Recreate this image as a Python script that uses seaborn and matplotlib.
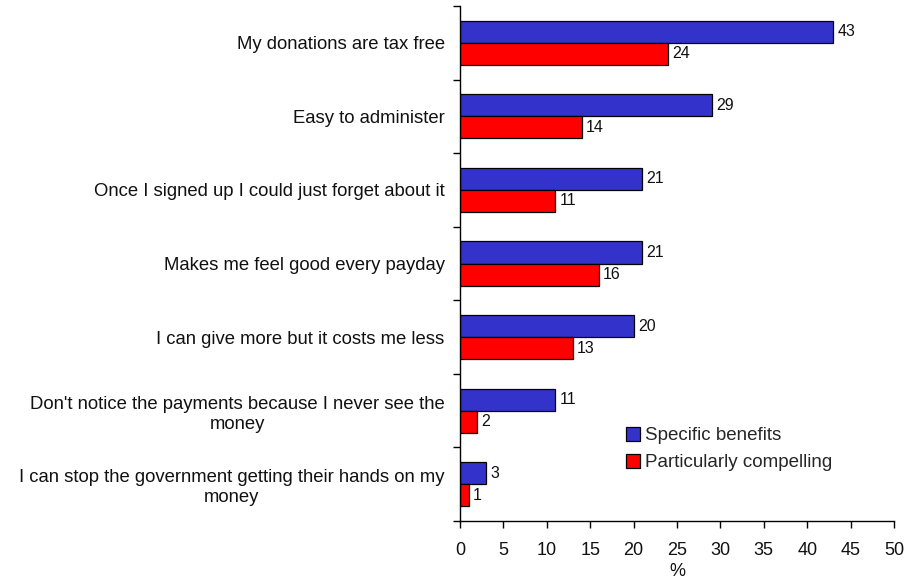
import matplotlib
matplotlib.use("Agg")
import matplotlib.pyplot as plt
import seaborn as sns
import pandas as pd
import numpy as np

categories = [
    "My donations are tax free",
    "Easy to administer",
    "Once I signed up I could just forget about it",
    "Makes me feel good every payday",
    "I can give more but it costs me less",
    "Don't notice the payments because I never see the\nmoney",
    "I can stop the government getting their hands on my\nmoney",
]
specific_benefits = [43, 29, 21, 21, 20, 11, 3]
particularly_compelling = [24, 14, 11, 16, 13, 2, 1]
series_names = ["Specific benefits", "Particularly compelling"]
series_colors = ["#3333CC", "#FF0000"]
x_ticks = [0, 5, 10, 15, 20, 25, 30, 35, 40, 45, 50]

df = pd.DataFrame({
    "category": categories * 2,
    "value": specific_benefits + particularly_compelling,
    "series": [series_names[0]] * len(categories) + [series_names[1]] * len(categories),
})

sns.set_style("white")
plt.rcParams["font.family"] = ["Liberation Sans", "DejaVu Sans"]

fig = plt.figure(figsize=(9.07, 5.8), dpi=100)
ax = fig.add_axes([460 / 907, 1 - 521 / 580, 434 / 907, 515 / 580])

sns.barplot(
    data=df, y="category", x="value", hue="series", orient="h",
    order=categories, hue_order=series_names, palette=series_colors,
    width=0.6, edgecolor="black", linewidth=0.9, saturation=1, ax=ax,
)

for container in ax.containers:
    ax.bar_label(container, padding=3, fontsize=11.5, color="#111111")

ax.set_xlim(0, 50)
ax.set_ylim(len(categories) - 0.5, -0.5)
ax.set_xticks(x_ticks)
ax.set_xticklabels([str(t) for t in x_ticks], fontsize=13, color="#111111")
ax.set_xlabel("%", fontsize=13, labelpad=3, color="#111111")
ax.set_ylabel("")

ax.set_yticks(range(len(categories)))
ax.set_yticklabels(categories, fontsize=13.3, multialignment="center",
                   color="#111111", linespacing=1.25)
ax.set_yticks(np.arange(-0.5, len(categories), 1.0), minor=True)
ax.tick_params(axis="y", which="major", length=0, pad=11)
ax.tick_params(axis="y", which="minor", length=5, width=1, color="black", direction="out", left=True)
ax.tick_params(axis="x", which="major", length=5, width=1, color="black", direction="out", bottom=True, pad=10)

for side in ["top", "right"]:
    ax.spines[side].set_visible(False)
for side in ["left", "bottom"]:
    ax.spines[side].set_color("black")
    ax.spines[side].set_linewidth(1)

leg = ax.legend(
    loc="upper left", bbox_to_anchor=((626 - 460) / 434, (521 - 427) / 515),
    frameon=False, borderpad=0, borderaxespad=0,
    fontsize=13.5, handlelength=0.75, handleheight=0.75, handletextpad=0.25,
    labelspacing=0.5,
)
for h in leg.legend_handles:
    h.set_edgecolor("black")
    h.set_linewidth(0.9)

fig.savefig("out.png", dpi=100)
